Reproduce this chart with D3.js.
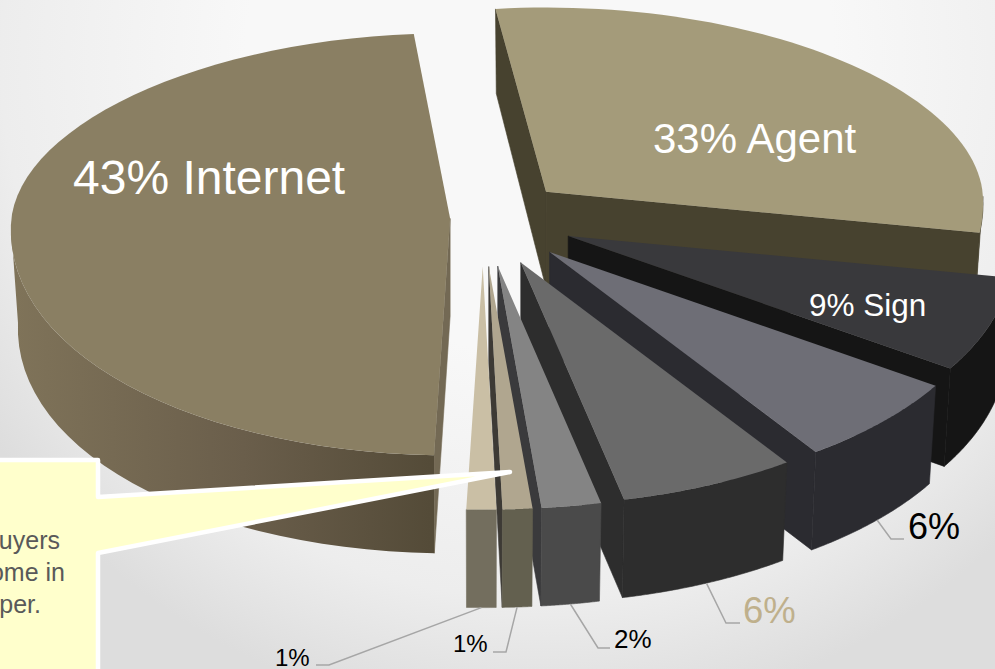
<!DOCTYPE html>
<html>
<head>
<meta charset="utf-8">
<script src="https://d3js.org/d3.v7.min.js"></script>
<style>
html, body { margin: 0; padding: 0; background: #fff; overflow: hidden; }
svg { display: block; font-family: "Liberation Sans", Arial, sans-serif; }
</style>
</head>
<body>
<div id="chart"></div>
<script>
// clockwise from the top, starting with the Agent slice
var categories = ["Agent", "Sign", "Friend", "Builder", "Print", "Other", "Newspaper", "Internet"];
var percent = [33, 9, 6, 6, 2, 1, 1, 43];
var labelTexts = ["33% Agent", "9% Sign", "6%", "6%", "2%", "1%", "1%", "43% Internet"];
var calloutLines = ["buyers", "home in", "newspaper."];

var width = 995, height = 669;
var center = [483, 218];
var radiusX = 450, radiusUp = 190, radiusDown = 243;
var perspective = 0.05;
var depth = 98;
var bottomShrink = 0.984;
var explode = 0.2;

// slice looks
var topColors = ["#a49b7a", "#39393c", "#6e6e76", "#6a6a6a", "#848484", "#b0a68f", "#cabfa5", "#8a7f63"];
var wallColors = ["#47422f", "#151515", "#2b2b30", "#2d2d2d", "#4a4a4a", "#63604f", "#736e5e", "#655a47"];
var sideColors = ["#47422f", "#151515", "#2b2b30", "#2d2d2d", "#3a3a3c", "#3d3a35", "#736e5e", "#736954"];
var explodes = [explode, explode, explode, explode, explode, explode, explode, 0.073];
var radiusFactor = [0.97, 0.99, 1, 1, 1, 1, 1, 0.975];

// where each label sits, and the elbow of its leader line if it has one
var labelLayout = [
  { x: 653, y: 153, size: 42, color: "#fff" },
  { x: 809, y: 316, size: 31.5, color: "#fff" },
  { x: 908, y: 539, size: 36, color: "#000", elbow: [891, 539], end: 904 },
  { x: 743, y: 623, size: 36.5, color: "#bfb08c", elbow: [726, 623], end: 740 },
  { x: 614, y: 648, size: 26, color: "#000", elbow: [598, 648], end: 610 },
  { x: 453, y: 652, size: 24, color: "#000", elbow: [506, 652], end: 493 },
  { x: 275, y: 666, size: 24, color: "#000", elbow: [329, 665], end: 316 },
  { x: 73, y: 194, size: 48, color: "#fff" }
];

var arcs = d3.pie().value(function(d){ return d; }).sort(null)(percent);

// the picture's camera squeezes some slices: true pie angle -> angle on the drawing
var viewAngle = d3.scaleLinear()
  .domain([0, arcs[0].endAngle, arcs[1].endAngle, arcs[7].startAngle, 2 * Math.PI])
  .range([-7, 100, 123.4, 182, 355]);

function rim(deg, r) {
  var a = deg * Math.PI / 180, c = Math.cos(a);
  return [
    radiusX * r * Math.sin(a) * (1 - perspective * c),
    -c * (c > 0 ? radiusUp : radiusDown) * r
  ];
}

// walls get shorter towards the back of the pie
function wallDrop(y) {
  return depth - Math.max(0, 222 - y) * 0.0625;
}

var slices = arcs.map(function(arc, i) {
  var a0 = viewAngle(arc.startAngle), a1 = viewAngle(arc.endAngle);
  var off = rim((a0 + a1) / 2, explodes[i]);
  var apex = [center[0] + off[0], center[1] + off[1]];
  var edge = d3.range(0, 61).map(function(k) {
    var deg = a0 + (a1 - a0) * k / 60;
    var p = rim(deg, radiusFactor[i]);
    return { deg: deg, x: apex[0] + p[0], y: apex[1] + p[1] };
  });
  return { i: i, apex: apex, edge: edge, a0: a0, a1: a1 };
});

// same rim point, one wall lower
function lower(apex, p) {
  return [apex[0] + (p.x - apex[0]) * bottomShrink, p.y + wallDrop(p.y)];
}

var line = d3.line().x(function(d){ return d[0]; }).y(function(d){ return d[1]; });

var svg = d3.select("#chart").append("svg")
  .attr("width", width).attr("height", height);

var defs = svg.append("defs");
var bg = defs.append("radialGradient").attr("id", "bg")
  .attr("gradientUnits", "userSpaceOnUse")
  .attr("cx", 540).attr("cy", 60).attr("r", 700);
bg.append("stop").attr("offset", "0").attr("stop-color", "#f8f8f8");
bg.append("stop").attr("offset", "0.42").attr("stop-color", "#f8f8f8");
bg.append("stop").attr("offset", "0.77").attr("stop-color", "#ededed");
bg.append("stop").attr("offset", "0.95").attr("stop-color", "#dddddd");
bg.append("stop").attr("offset", "1").attr("stop-color", "#dddddd");

var wallGrad = defs.append("linearGradient").attr("id", "internetWall")
  .attr("gradientUnits", "userSpaceOnUse")
  .attr("x1", 15).attr("x2", 430).attr("y1", 0).attr("y2", 0);
wallGrad.append("stop").attr("offset", "0").attr("stop-color", "#7f7359");
wallGrad.append("stop").attr("offset", "0.55").attr("stop-color", "#6a5e4b");
wallGrad.append("stop").attr("offset", "1").attr("stop-color", "#544b38");

svg.append("rect").attr("width", width).attr("height", height).attr("fill", "url(#bg)");

// a flat side wall only shows if the slice lies on the far side of its edge
function sideVisible(apex, p, other) {
  var ex = p.x - apex[0], ey = p.y - apex[1];
  var down = ex * depth;
  var inside = ex * (other.y - apex[1]) - ey * (other.x - apex[0]);
  return down * inside < 0;
}

// back to front so nearer slices cover farther ones
[7, 0, 1, 2, 3, 4, 5, 6].forEach(function(i) {
  var s = slices[i], first = s.edge[0], last = s.edge[s.edge.length - 1];
  var g = svg.append("g").attr("class", "slice").attr("data-name", categories[i]);

  [[first, last], [last, first]].forEach(function(pair) {
    if (!sideVisible(s.apex, pair[0], pair[1])) return;
    var base = lower(s.apex, pair[0]);
    g.append("path")
      .attr("d", line([
        s.apex, [pair[0].x, pair[0].y],
        base, [s.apex[0], s.apex[1] + wallDrop(s.apex[1])]
      ]) + "Z")
      .attr("fill", sideColors[i]).attr("stroke", sideColors[i]).attr("stroke-width", 0.6);
  });

  // outer wall: only the near half of the rim faces us
  var front = s.edge.filter(function(p) { return Math.cos(p.deg * Math.PI / 180) < 0; });
  if (front.length > 1) {
    var ring = front.map(function(p){ return [p.x, p.y]; })
      .concat(front.slice().reverse().map(function(p){ return lower(s.apex, p); }));
    g.append("path").attr("d", line(ring) + "Z")
      .attr("fill", i === 7 ? "url(#internetWall)" : wallColors[i])
      .attr("stroke", i === 7 ? "none" : wallColors[i]).attr("stroke-width", 0.6);
  }

  var face = [s.apex].concat(s.edge.map(function(p){ return [p.x, p.y]; }));
  g.append("path").attr("d", line(face) + "Z").attr("fill", topColors[i]);
});

// leader lines and labels
slices.forEach(function(s, i) {
  var l = labelLayout[i];
  if (l.elbow) {
    var start = lower(s.apex, s.edge[30]);
    svg.append("path")
      .attr("d", line([start, l.elbow, [l.end, l.elbow[1]]]))
      .attr("fill", "none").attr("stroke", "#a6a6a6").attr("stroke-width", 1.5);
  }
  svg.append("text")
    .attr("x", l.x).attr("y", l.y)
    .attr("font-size", l.size).attr("fill", l.color)
    .text(labelTexts[i]);
});

// yellow callout, runs off the left and bottom of the slide
var callout = [[-10, 460], [98, 460], [98, 497], [510, 472], [98, 553], [98, 680], [-10, 680]];
svg.append("path").attr("d", line(callout) + "Z")
  .attr("fill", "#ffffcc").attr("stroke", "#fff")
  .attr("stroke-width", 4.5).attr("stroke-linejoin", "round");

var calloutEnds = [60, 65, 41], calloutBase = [549, 581, 613];
svg.selectAll("text.callout").data(calloutLines).enter().append("text")
  .attr("class", "callout")
  .attr("x", function(d, i){ return calloutEnds[i]; })
  .attr("y", function(d, i){ return calloutBase[i]; })
  .attr("text-anchor", "end").attr("font-size", 25).attr("fill", "#595959")
  .text(function(d){ return d; });
</script>
</body>
</html>
